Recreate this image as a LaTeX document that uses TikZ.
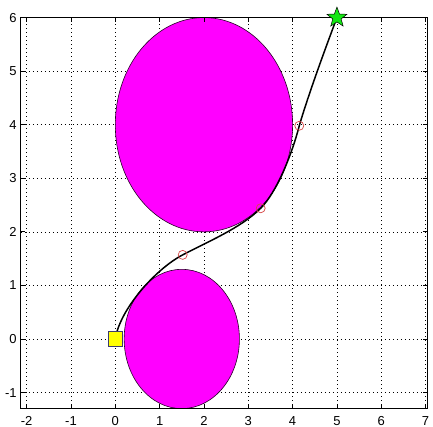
\documentclass[tikz,border=0pt]{standalone}
\usepackage{fontspec}
\setmainfont{Liberation Sans}
\usetikzlibrary{shapes.geometric}
\definecolor{obstaclefill}{RGB}{255,0,255}
\definecolor{goalgreen}{RGB}{20,230,20}
\definecolor{startyellow}{RGB}{255,255,0}
\definecolor{startedge}{RGB}{60,60,110}
\definecolor{waypointred}{RGB}{215,70,70}
\begin{document}
\begin{tikzpicture}[x=44.33pt,y=53.57pt,
  gridline/.style={black, line width=0.5pt, dash pattern=on 0.8pt off 3.2pt},
  obstacle/.style={fill=obstaclefill, draw=black!85!obstaclefill, line width=0.6pt},
  trajectory/.style={black, line width=1.5pt},
  waypoint/.style={circle, draw=waypointred, line width=0.7pt, minimum size=9pt, inner sep=0pt},
  startmark/.style={rectangle, fill=startyellow, draw=startedge, line width=0.7pt, minimum width=13.5pt, minimum height=15pt, inner sep=0pt},
  goalmark/.style={star, star points=5, star point ratio=2.4, fill=goalgreen, draw=black, line width=0.5pt, minimum size=21pt, inner sep=0pt},
  ticklabel/.style={font=\fontsize{13}{15}\selectfont, inner sep=0pt},
  axisline/.style={black, line width=0.8pt}
]
\useasboundingbox[fill=white] (-2.601,-1.643) rectangle (7.167,6.328);
% grid
\foreach \x in {-2,...,7} \draw[gridline] (\x,-1.3) -- (\x,6);
\foreach \y in {-1,...,5} \draw[gridline] (-2.13,\y) -- (7.03,\y);
% obstacles
\begin{scope}
  \clip (-2.13,-1.3) rectangle (7.03,6);
  \draw[obstacle] (2,4) ellipse [x radius=2, y radius=2];
  \draw[obstacle] (1.5,0) ellipse [x radius=1.3, y radius=1.3];
\end{scope}
% named points of the trajectory
\coordinate (p0) at (0,0);
\coordinate (p1) at (1.52,1.57);
\coordinate (p2) at (3.28,2.44);
\coordinate (p3) at (4.15,3.98);
\coordinate (p4) at (5,6);
% trajectory
\draw[trajectory] (p0) .. controls (0.1,0.55) and (0.9,1.3) .. (p1)
  .. controls (2.07,1.81) and (2.83,2.07) .. (p2)
  .. controls (3.63,2.73) and (3.98,3.43) .. (p3)
  .. controls (4.35,4.55) and (4.75,5.45) .. (p4);
% waypoints
\node[waypoint] (w1) at (p1) {};
\node[waypoint] (w2) at (p2) {};
\node[waypoint] (w3) at (p3) {};
% axis box and ticks
\draw[axisline] (-2.13,-1.3) rectangle (7.03,6);
\foreach \x in {-2,...,7} {
  \draw[axisline] (\x,-1.3) -- ++(0,4pt);
  \draw[axisline] (\x,6) -- ++(0,-4pt);
  \node[ticklabel, anchor=north] (xl\x) at ([yshift=-7.5pt]\x,-1.3) {\x};
}
\foreach \y in {-1,...,6} {
  \draw[axisline] (-2.13,\y) -- ++(4pt,0);
  \draw[axisline] (7.03,\y) -- ++(-4pt,0);
  \node[ticklabel, anchor=east] (yl\y) at ([xshift=-4pt]-2.13,\y) {\y};
}
% start and goal markers
\node[startmark] (s) at (p0) {};
\node[goalmark] (g) at (p4) {};
\end{tikzpicture}
\end{document}
